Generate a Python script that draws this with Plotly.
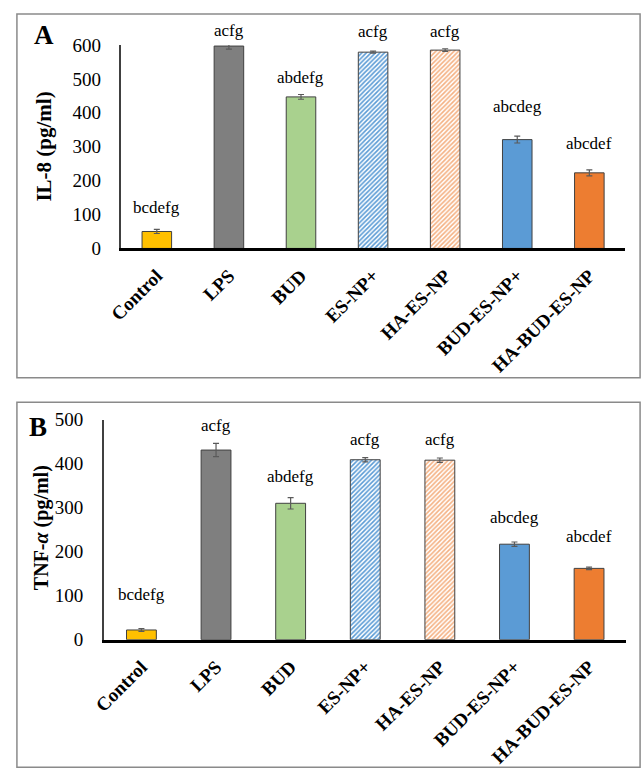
import plotly.graph_objects as go

# ---- data ----
categories = ["Control", "LPS", "BUD", "ES-NP+", "HA-ES-NP", "BUD-ES-NP+", "HA-BUD-ES-NP"]
il8_mean = [50, 597, 447, 579, 585, 321, 223]
il8_err = [6, 9, 7, 3, 4, 10, 9]
il8_letters = ["bcdefg", "acfg", "abdefg", "acfg", "acfg", "abcdeg", "abcdef"]
tnf_mean = [22, 431, 310, 409, 408, 217, 162]
tnf_err = [3, 15, 13, 5, 5, 5, 3]
tnf_letters = ["bcdefg", "acfg", "abdefg", "acfg", "acfg", "abcdeg", "abcdef"]
il8_ticks = [0, 100, 200, 300, 400, 500, 600]
tnf_ticks = [0, 100, 200, 300, 400, 500]

# ---- style ----
bar_colors = ["#FFC000", "#7F7F7F", "#A9D18E", "#5B9BD5", "#F4B183", "#5B9BD5", "#ED7D31"]
pattern_shapes = ["", "", "", "/", "/", "", ""]
pattern_bg = ["white"] * 7
SERIF = "Liberation Serif, Times New Roman, serif"
W, H = 644, 783
IL8_MAX, TNF_MAX = 600, 500

def px(x):
    return x / W

def py(y):
    return 1 - y / H

fig = go.Figure()

def add_bars(means, errs, xa, ya, width):
    fig.add_trace(go.Bar(
        x=categories, y=means, xaxis=xa, yaxis=ya, width=width,
        marker=dict(
            color=bar_colors,
            line=dict(color="#404040", width=1),
            pattern=dict(shape=pattern_shapes, fgcolor=bar_colors, bgcolor=pattern_bg,
                         size=3.2, solidity=0.5, fillmode="replace"),
        ),
        error_y=dict(type="data", array=errs, visible=True, color="#5a5a5a",
                     thickness=1.2, width=3),
        showlegend=False, hoverinfo="x+y",
    ))

add_bars(il8_mean, il8_err, "x", "y", 0.41)
add_bars(tnf_mean, tnf_err, "x2", "y2", 0.40)

xcommon = dict(showline=True, linecolor="#000000", linewidth=2.5, ticks="",
               tickangle=-45, showgrid=False, zeroline=False,
               tickfont=dict(family=SERIF, size=19, color="#000", weight="bold"),
               ticklabelstandoff=6)
ycommon = dict(showline=True, linecolor="#404040", linewidth=2, ticks="",
               showgrid=False, zeroline=False,
               tickfont=dict(family=SERIF, size=19, color="#000"))

fig.update_layout(
    width=W, height=H,
    margin=dict(l=0, r=0, t=0, b=0),
    paper_bgcolor="white", plot_bgcolor="white",
    xaxis=dict(domain=[px(110), px(625)], anchor="y", **xcommon),
    yaxis=dict(domain=[py(245), py(36)], anchor="x", range=[0, IL8_MAX],
               tickvals=il8_ticks, ticklabelstandoff=14, **ycommon),
    xaxis2=dict(domain=[px(93), px(626)], anchor="y2", **xcommon),
    yaxis2=dict(domain=[py(647), py(421)], anchor="x2", range=[0, TNF_MAX],
                tickvals=tnf_ticks, ticklabelstandoff=15, **ycommon),
)

# panel frames
for top, bottom in [(4, 378), (403, 778)]:
    fig.add_shape(type="rect", xref="paper", yref="paper",
                  x0=px(4), x1=px(640), y0=py(bottom), y1=py(top),
                  line=dict(color="#8a8a8a", width=1.5), fillcolor="rgba(0,0,0,0)")

annotations = []
# significance letters (heights in data units, placed by hand as in the original)
il8_label_pos = [122, 644, 504, 639, 639, 418, 311]
tnf_label_pos = [102, 487, 371, 456, 456, 277, 234]
for cat, txt, yv in zip(categories, il8_letters, il8_label_pos):
    annotations.append(dict(x=cat, y=yv / IL8_MAX, xref="x", yref="y domain", text=txt,
                            showarrow=False, xanchor="center", yanchor="middle",
                            font=dict(family=SERIF, size=17, color="#000")))
for cat, txt, yv in zip(categories, tnf_letters, tnf_label_pos):
    annotations.append(dict(x=cat, y=yv / TNF_MAX, xref="x2", yref="y2 domain", text=txt,
                            showarrow=False, xanchor="center", yanchor="middle",
                            font=dict(family=SERIF, size=17, color="#000")))

# axis titles and panel letters
common = dict(xref="paper", yref="paper", showarrow=False, xanchor="center", yanchor="middle")
annotations += [
    dict(x=px(32), y=py(140), text="IL-8 (pg/ml)", textangle=-90,
         font=dict(family=SERIF, size=21, color="#000", weight="bold"), **common),
    dict(x=px(29), y=py(532), text="TNF-<i>α</i> (pg/ml)", textangle=-90,
         font=dict(family=SERIF, size=20, color="#000", weight="bold"), **common),
    dict(x=px(32), y=py(26), text="A",
         font=dict(family=SERIF, size=27, color="#000", weight="bold"), **common),
    dict(x=px(26), y=py(429), text="B",
         font=dict(family=SERIF, size=27, color="#000", weight="bold"), **common),
]
fig.update_layout(annotations=annotations)

fig.write_html("out.html", post_script="document.body.style.margin='0px';",
               config={"displayModeBar": False})
